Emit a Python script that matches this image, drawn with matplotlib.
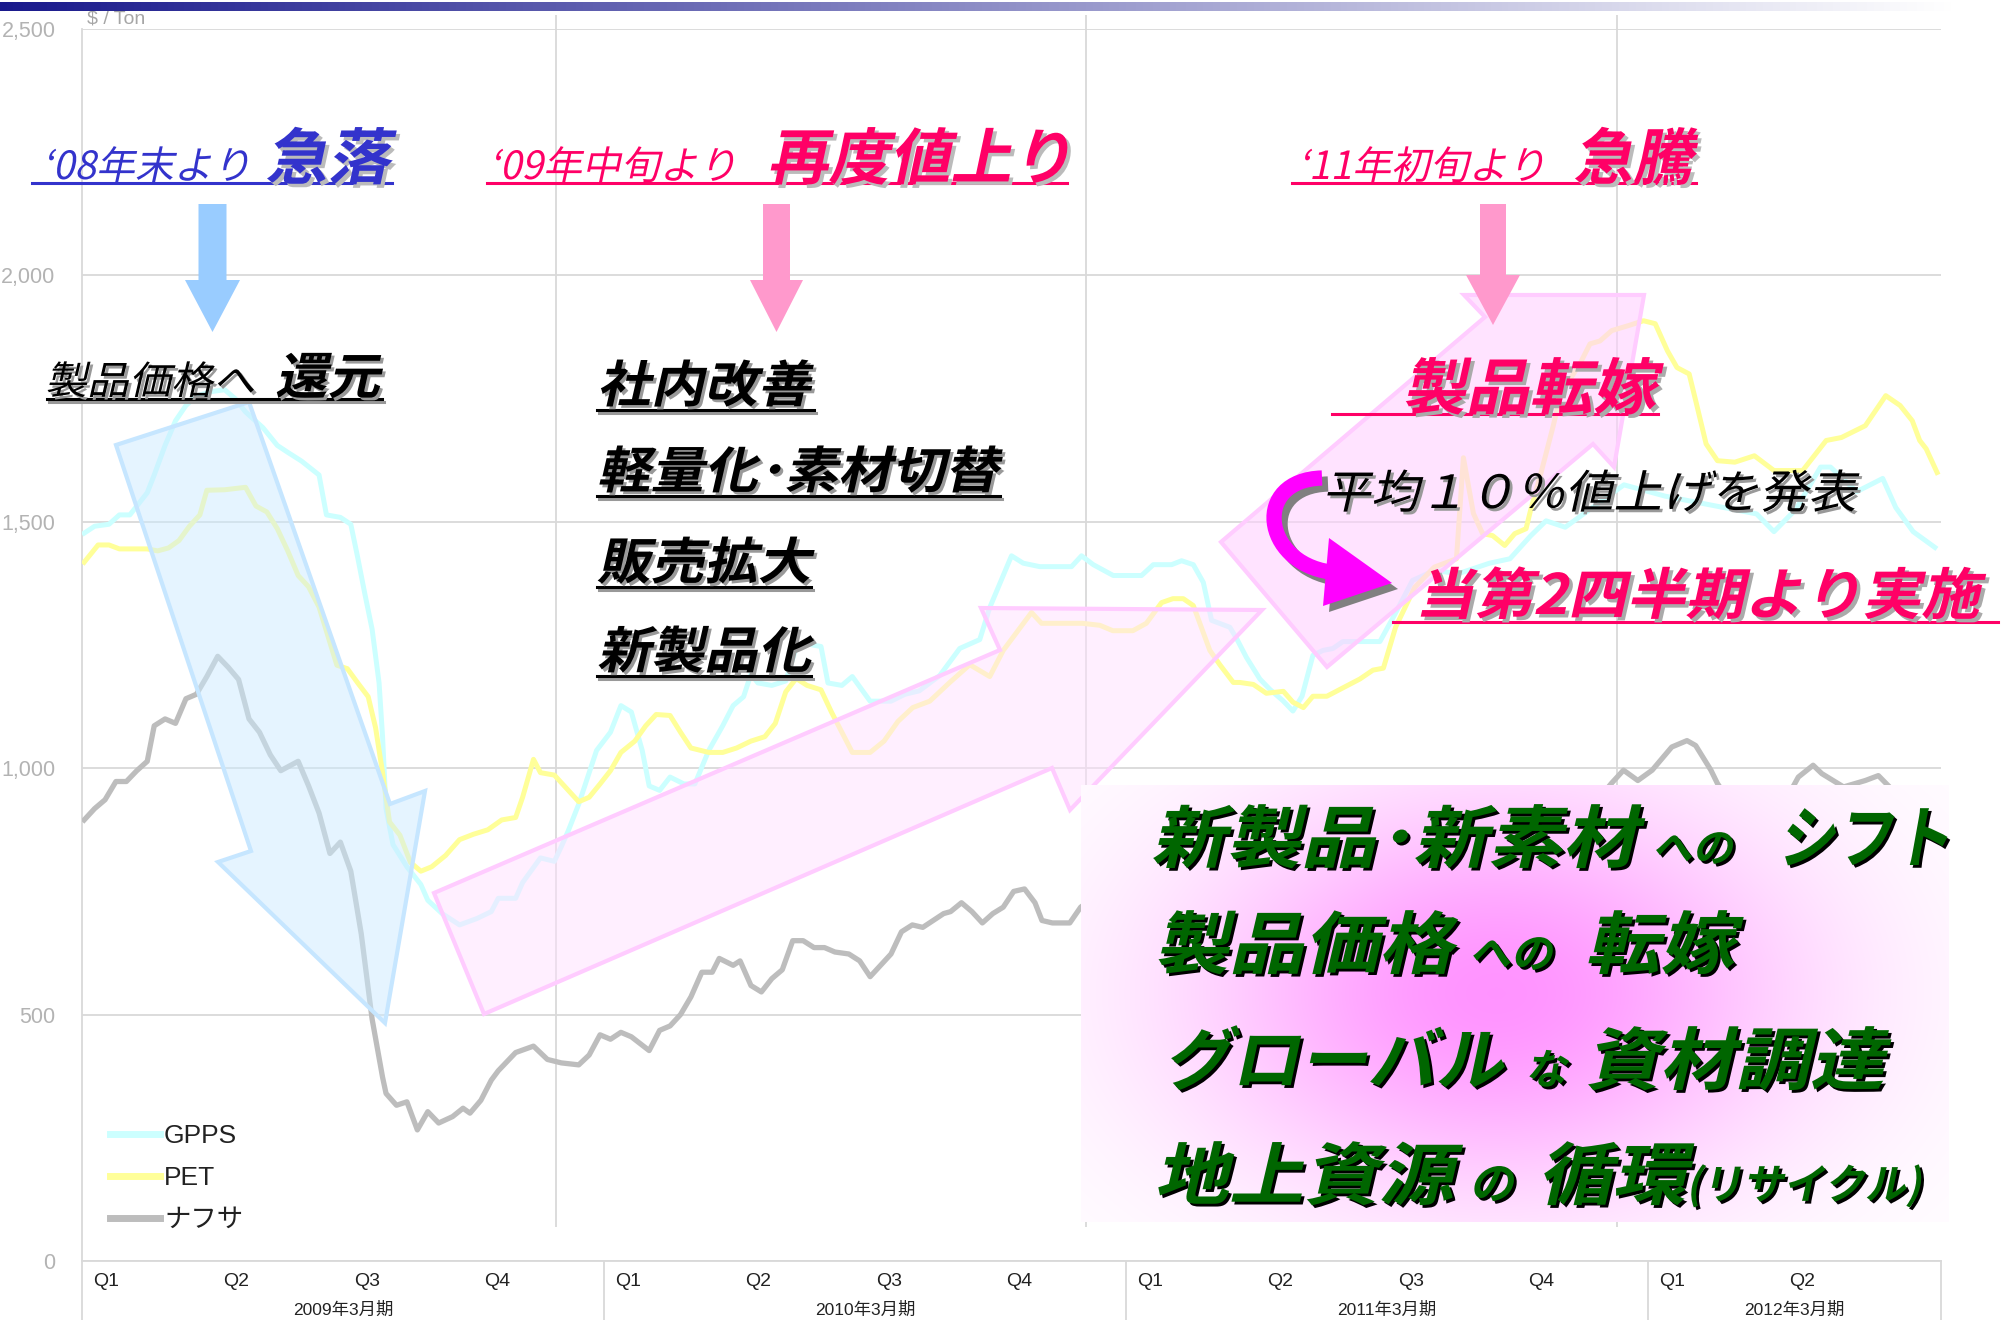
#!/usr/bin/env python
# -*- coding: utf-8 -*-
import numpy as np
import matplotlib
matplotlib.use('Agg')
import matplotlib.pyplot as plt
import matplotlib.patheffects as pe
from matplotlib import font_manager
from matplotlib.colors import to_rgba
from matplotlib.lines import Line2D
from matplotlib.path import Path
from matplotlib.patches import Polygon, PathPatch
from matplotlib.transforms import Affine2D, blended_transform_factory

W, H = 2011, 1320

# months counted from April 2008 (start of FY 2009/3), prices in $/ton
gpps_month = [0.05, 0.29, 0.62, 0.86, 1.10, 1.34, 1.50, 1.66, 1.91, 2.15,
              2.39, 2.63, 2.95, 3.28, 3.52, 3.76, 4.16, 4.49, 4.73, 5.05,
              5.45, 5.62, 5.94, 6.18, 6.34, 6.50, 6.67, 6.83, 6.91, 6.99,
              7.15, 7.47, 7.79, 7.95, 8.28, 8.68, 9.08, 9.41, 9.57, 9.97,
              10.13, 10.54, 10.86, 11.02, 11.18, 11.42, 11.83, 12.15, 12.39, 12.63,
              12.88, 13.04, 13.28, 13.52, 13.84, 14.09, 14.41, 14.73, 14.97, 15.21,
              15.38, 15.54, 15.86, 16.18, 16.42, 16.67, 16.99, 17.15, 17.47, 17.71,
              18.12, 18.60, 18.92, 19.25, 19.72, 20.18, 20.64, 20.87, 21.37, 21.64,
              22.02, 22.75, 22.98, 23.25, 23.71, 24.36, 24.63, 25.05, 25.28, 25.55,
              25.78, 25.97, 26.39, 26.54, 26.77, 27.08, 27.31, 27.61, 27.84, 28.05,
              28.30, 28.53, 28.76, 28.99, 29.84, 30.17, 30.59, 31.09, 31.65, 32.36,
              32.83, 33.30, 33.66, 34.10, 35.45, 36.40, 38.50, 38.90, 39.40, 39.97,
              40.20, 40.80, 41.40, 41.70, 42.10, 42.60]
gpps_price = [1477, 1491, 1495, 1514, 1514, 1541, 1559, 1595, 1655, 1705,
              1736, 1755, 1764, 1768, 1750, 1723, 1691, 1655, 1641, 1623,
              1595, 1514, 1509, 1495, 1427, 1355, 1282, 1173, 1064, 918,
              845, 800, 764, 732, 705, 682, 695, 709, 736, 736,
              768, 818, 811, 841, 873, 927, 1036, 1073, 1127, 1114,
              1036, 964, 955, 982, 968, 968, 1036, 1086, 1127, 1145,
              1191, 1173, 1168, 1177, 1245, 1252, 1247, 1173, 1168, 1186,
              1136, 1136, 1150, 1157, 1188, 1243, 1261, 1326, 1431, 1416,
              1409, 1409, 1431, 1413, 1391, 1391, 1413, 1413, 1421, 1413,
              1377, 1300, 1286, 1264, 1225, 1181, 1160, 1137, 1116, 1146,
              1229, 1239, 1243, 1257, 1257, 1310, 1381, 1401, 1395, 1416,
              1425, 1471, 1502, 1489, 1575, 1552, 1516, 1480, 1525, 1611,
              1611, 1561, 1588, 1529, 1480, 1448]

pet_month = [0.05, 0.37, 0.62, 0.86, 1.50, 1.74, 1.99, 2.23, 2.47, 2.71,
             2.87, 3.28, 3.76, 4.00, 4.25, 4.49, 4.73, 4.97, 5.21, 5.45,
             5.70, 5.86, 6.10, 6.34, 6.58, 6.75, 6.91, 7.07, 7.31, 7.55,
             7.79, 8.04, 8.36, 8.68, 9.00, 9.33, 9.65, 9.97, 10.13, 10.38,
             10.54, 10.86, 11.18, 11.42, 11.66, 11.91, 12.15, 12.39, 12.71, 12.96,
             13.20, 13.52, 13.76, 14.00, 14.41, 14.73, 15.05, 15.38, 15.70, 15.94,
             16.18, 16.42, 16.67, 16.99, 17.23, 17.47, 17.71, 18.12, 18.44, 18.76,
             19.10, 19.49, 19.95, 20.41, 20.87, 21.18, 21.83, 22.06, 23.00, 23.40,
             23.70, 24.16, 24.47, 24.82, 25.08, 25.32, 25.55, 25.93, 26.16, 26.47,
             26.62, 26.93, 27.23, 27.62, 27.84, 28.08, 28.30, 28.62, 28.99, 29.38,
             29.68, 29.92, 30.20, 30.64, 31.09, 31.60, 31.76, 31.99, 32.20, 32.43,
             32.71, 32.94, 33.20, 33.30, 33.54, 33.82, 34.00, 34.44, 34.67, 34.90,
             35.17, 35.55, 35.90, 36.17, 36.45, 36.67, 36.95, 37.10, 37.34, 37.60,
             38.00, 38.45, 38.90, 39.56, 40.10, 40.45, 41.00, 41.47, 41.80, 42.08,
             42.25, 42.40, 42.65]
pet_price = [1418, 1453, 1453, 1445, 1445, 1441, 1447, 1462, 1491, 1514,
             1564, 1565, 1570, 1532, 1520, 1486, 1441, 1391, 1368, 1327,
             1255, 1209, 1202, 1173, 1145, 1082, 991, 891, 864, 809,
             791, 800, 823, 855, 866, 875, 895, 900, 941, 1018,
             991, 986, 955, 932, 941, 968, 995, 1032, 1055, 1086,
             1109, 1107, 1073, 1041, 1032, 1032, 1041, 1055, 1064, 1091,
             1155, 1182, 1168, 1159, 1114, 1073, 1032, 1032, 1055, 1095,
             1123, 1136, 1174, 1210, 1186, 1239, 1316, 1294, 1294, 1290,
             1279, 1279, 1294, 1336, 1344, 1344, 1330, 1239, 1210, 1174,
             1174, 1170, 1152, 1156, 1134, 1123, 1146, 1146, 1163, 1181,
             1199, 1203, 1286, 1367, 1408, 1425, 1630, 1517, 1476, 1472,
             1452, 1476, 1486, 1522, 1598, 1693, 1760, 1821, 1861, 1867,
             1888, 1898, 1908, 1902, 1847, 1813, 1800, 1746, 1658, 1624,
             1621, 1634, 1604, 1604, 1665, 1671, 1695, 1756, 1736, 1705,
             1665, 1648, 1600]

# naphtha is hidden behind the text panel for part of the period (nan = gap)
nap_month = [0.05, 0.29, 0.53, 0.78, 1.02, 1.26, 1.50, 1.66, 1.91, 2.15,
             2.39, 2.63, 2.87, 3.12, 3.36, 3.60, 3.84, 4.08, 4.33, 4.57,
             4.97, 5.21, 5.45, 5.70, 5.94, 6.18, 6.42, 6.67, 6.91, 6.99,
             7.23, 7.47, 7.71, 7.95, 8.20, 8.52, 8.76, 8.92, 9.17, 9.41,
             9.57, 9.97, 10.38, 10.70, 11.02, 11.42, 11.66, 11.91, 12.15, 12.39,
             12.63, 13.04, 13.28, 13.52, 13.76, 14.00, 14.25, 14.49, 14.65, 14.97,
             15.13, 15.38, 15.62, 15.86, 16.10, 16.34, 16.58, 16.83, 17.07, 17.31,
             17.63, 17.88, 18.12, 18.36, 18.60, 18.84, 19.09, 19.33, 19.57, 19.81,
             19.97, 20.22, 20.46, 20.70, 20.94, 21.18, 21.42, 21.67, 21.91, 22.07,
             22.31, 22.71, 22.96, 23.30, 29.00, 34.80, 35.16, 35.44, 35.77, 36.10,
             36.55, 36.90, 37.10, 37.45, 37.60, 37.90, 38.60, 39.20, 39.46, 39.80,
             40.00, 40.50, 41.00, 41.30, 41.60, 41.90]
nap_price = [895, 918, 936, 973, 973, 995, 1014, 1086, 1100, 1091,
             1141, 1150, 1186, 1227, 1205, 1180, 1100, 1073, 1027, 995,
             1014, 964, 909, 827, 850, 791, 664, 491, 373, 340,
             316, 323, 266, 303, 280, 293, 310, 300, 326, 367,
             386, 423, 436, 409, 402, 398, 418, 459, 450, 464,
             455, 427, 468, 477, 500, 536, 586, 586, 614, 600,
             609, 559, 546, 573, 591, 650, 650, 636, 636, 627,
             623, 609, 577, 600, 623, 668, 682, 677, 691, 705,
             709, 727, 709, 686, 705, 718, 750, 755, 727, 691,
             686, 686, 718, 740, np.nan, 930, 969, 996, 975, 996,
             1043, 1056, 1046, 996, 969, 930, np.nan, 940, 982, 1006,
             989, 962, 975, 985, 958, 930]

series_names = ['GPPS', 'PET', 'ナフサ']
y_ticks = [0, 500, 1000, 1500, 2000, 2500]
y_tick_labels = ['0', '500', '1,000', '1,500', '2,000', '2,500']
q_labels = ['Q1', 'Q2', 'Q3', 'Q4'] * 3 + ['Q1', 'Q2']
fy_labels = ['2009年3月期', '2010年3月期', '2011年3月期', '2012年3月期']
x_end = 42.74
fy_edges = [0, 12, 24, 36, x_end]
grid_months = [10.9, 23.08, 35.3]

names = {f.name for f in font_manager.fontManager.ttflist}
narrow = 'Liberation Sans Narrow' if 'Liberation Sans Narrow' in names else 'Liberation Sans'
JP = 'Noto Sans CJK JP'
plt.rcParams['font.family'] = [JP, 'DejaVu Sans']


class Slant(pe.AbstractPathEffect):
    """draws text glyphs sheared (italic) and scaled in width, optionally as a shadow"""

    def __init__(self, offset=(0, 0), color=None, angle=12, stretch=1.0):
        super().__init__(offset)
        self.color = color
        self.angle = angle
        self.stretch = stretch

    def draw_path(self, renderer, gc, tpath, affine, rgbFace=None):
        face = rgbFace if self.color is None else to_rgba(self.color)
        tr = (Affine2D().skew_deg(self.angle, 0).scale(self.stretch, 1)
              + affine + self._offset_transform(renderer))
        renderer.draw_path(gc, tpath, tr, face)


fig = plt.figure(figsize=(W / 100, H / 100), dpi=100)
px = Affine2D().scale(1.0 / W, -1.0 / H).translate(0, 1) + fig.transFigure


def say(x, y, s, size, color, bold=False, shadow=None, sh=(2, -2), stretch=1.05, z=8):
    eff = []
    if shadow:
        eff.append(Slant(sh, shadow, stretch=stretch))
    eff.append(Slant((0, 0), None, stretch=stretch))
    fig.text(x, y, s, transform=px, fontsize=size, color=color, family=[JP, 'DejaVu Sans'],
             fontweight='bold' if bold else 'normal', ha='left', va='baseline',
             path_effects=eff, zorder=z)


def underline(x0, x1, y, color, shadow=None, lw=2.2):
    if shadow:
        fig.add_artist(Line2D([x0 + 2, x1 + 2], [y + 3, y + 3], transform=px, color=shadow, lw=lw, zorder=7))
    fig.add_artist(Line2D([x0, x1], [y, y], transform=px, color=color, lw=lw, zorder=8))


def down_arrow(cx, top, neck, tip, sw, hw, color):
    pts = [(cx - sw / 2, top), (cx + sw / 2, top), (cx + sw / 2, neck), (cx + hw / 2, neck),
           (cx, tip), (cx - hw / 2, neck), (cx - sw / 2, neck)]
    fig.add_artist(Polygon(pts, closed=True, transform=px, facecolor=color, edgecolor='none', zorder=6))


# ---- main chart ----
ax = fig.add_axes([82 / W, 1 - 1261 / H, (1941 - 82) / W, (1261 - 29) / H])
ax.set_xlim(0, x_end)
ax.set_ylim(0, 2500)
l_nap, = ax.plot(nap_month, nap_price, color='#bdbdbd', lw=3.8, solid_joinstyle='round', zorder=3)
l_gpps, = ax.plot(gpps_month, gpps_price, color='#ccffff', lw=3.6, solid_joinstyle='round', zorder=3)
l_pet, = ax.plot(pet_month, pet_price, color='#ffff99', lw=3.6, solid_joinstyle='round', zorder=3)

ax.set_yticks(y_ticks)
ax.set_yticklabels(y_tick_labels, family=narrow)
ax.tick_params(axis='y', length=0, pad=19, labelsize=15.5, labelcolor='#b3b3b3')
ax.set_xticks([])
ax.grid(axis='y', color='#d9d9d9', lw=1.3)
ax.set_axisbelow(True)
for s in ('top', 'right'):
    ax.spines[s].set_visible(False)
for s in ('left', 'bottom'):
    ax.spines[s].set_color('#d9d9d9')
    ax.spines[s].set_linewidth(1.3)
ax.vlines(grid_months, 69, 2528, color='#d9d9d9', lw=1.3, zorder=1, clip_on=False)

trans = blended_transform_factory(ax.transData, ax.transAxes)
for m in fy_edges:
    ax.plot([m, m], [0, -60 / 1232], transform=trans, clip_on=False, color='#d9d9d9', lw=1.3)
for i, q in enumerate(q_labels):
    ax.text(0.55 + 3 * i, -21 / 1232, q, transform=trans, ha='center', va='center',
            fontsize=14, family=narrow, color='#222222')
for i, lab in enumerate(fy_labels):
    ax.text((fy_edges[i] + fy_edges[i + 1]) / 2, -49 / 1232, lab, transform=trans,
            ha='center', va='center', fontsize=12.5, family=[narrow, JP], color='#222222')

leg = ax.legend([l_gpps, l_pet, l_nap], series_names, loc='upper left', bbox_to_anchor=(110, 1124),
                bbox_transform=px, frameon=False, handlelength=1.9, handletextpad=0.15,
                labelspacing=0.68, borderpad=0, borderaxespad=0,
                prop=dict(family=[narrow, JP], size=19), labelcolor='#222222')
for h in leg.legend_handles:
    h.set_linewidth(5)

fig.text(87, 19, '$ / Ton', transform=px, fontsize=14, color='#a6a6a6', family=narrow, va='center')

# top gradient bar
bar = fig.add_axes([0, 1 - 11 / H, 1, 9 / H], zorder=9)
t = np.clip(np.linspace(0, 1.03, 600), 0, 1)
navy = np.array([0.10, 0.10, 0.55])
bar.imshow((navy + (1 - navy) * t[:, None])[None, :, :], aspect='auto', extent=(0, 1, 0, 1))
bar.axis('off')

# ---- big translucent arrows ----
blue_big = [(116, 445), (249, 402), (390, 804), (425, 791), (385, 1023), (218, 862), (251, 851)]
pink_low = [(434, 893), (1000, 650), (981, 608), (1262, 610), (1070, 810), (1052, 768), (484, 1014)]
pink_up = [(1221, 542), (1485, 317), (1464, 295), (1644, 295), (1614, 467), (1593, 444), (1327, 667)]
fig.add_artist(Polygon(blue_big, closed=True, transform=px, facecolor=(0.80, 0.92, 1.0, 0.5),
                       edgecolor='#c6e6ff', lw=3, zorder=2))
fig.add_artist(Polygon(pink_low, closed=True, transform=px, facecolor=(1.0, 0.88, 1.0, 0.5),
                       edgecolor='#ffccff', lw=3, zorder=2))
fig.add_artist(Polygon(pink_up, closed=True, transform=px, facecolor=(1.0, 0.82, 1.0, 0.6),
                       edgecolor='#ffccff', lw=3, zorder=2))

# ---- header annotations ----
say(42, 179, '‘08年末より', 28, '#3333cc', stretch=1.0)
say(265, 179, '急落', 44, '#3333cc', bold=True, shadow='#bbbbbb', sh=(2.5, -2.5), stretch=1.02)
underline(32, 392, 183, '#3333cc')
say(489, 179, '‘09年中旬より', 28, '#ff0066', stretch=1.0)
say(767, 179, '再度値上り', 44, '#ff0066', bold=True, shadow='#bbbbbb', sh=(2.5, -2.5), stretch=1.0)
underline(487, 1067, 183, '#ff0066')
say(1298, 179, '‘11年初旬より', 28, '#ff0066', stretch=1.0)
say(1573, 179, '急騰', 44, '#ff0066', bold=True, shadow='#bbbbbb', sh=(2.5, -2.5), stretch=0.98)
underline(1292, 1696, 183, '#ff0066')

down_arrow(212.5, 204, 280, 332, 28, 55, '#99ccff')
down_arrow(776.5, 204, 280, 332, 27, 53, '#ff99cc')
down_arrow(1493, 204, 275, 325, 26, 54, '#ff99cc')

say(45, 394, '製品価格へ', 28, 'black', shadow='#999999', sh=(2, -2), stretch=1.08)
say(275, 394, '還元', 36, 'black', bold=True, shadow='#999999', sh=(2, -2), stretch=1.05)
underline(47, 382, 399, 'black', shadow='#999999')

for txt, base, x1 in (('社内改善', 402, 814), ('軽量化･素材切替', 488, 1000),
                      ('販売拡大', 579, 811), ('新製品化', 668, 811)):
    say(597, base, txt, 36, 'black', bold=True, shadow='#999999', sh=(2, -2), stretch=1.07)
    underline(597, x1, base + 8, 'black', shadow='#999999')

say(1402, 409, '製品転嫁', 44, '#ff0066', bold=True, shadow='#aaaaaa', sh=(2.5, -2.5), stretch=1.04)
underline(1332, 1658, 414, '#ff0066')
say(1322, 508, '平均１０％値上げを発表', 33, 'black', shadow='#999999', sh=(2, -2), stretch=1.06)
say(1415, 614, '当第2四半期より実施', 40, '#ff0066', bold=True, shadow='#aaaaaa', sh=(2.5, -2.5), stretch=1.06)
underline(1393, 1998, 622, '#ff0066')

# curved magenta arrow with shadow
curve = Path([(1322, 478), (1252, 480), (1262, 562), (1330, 572)],
             [Path.MOVETO, Path.CURVE4, Path.CURVE4, Path.CURVE4])
for dx, dy, col in ((6, 6, '#808080'), (0, 0, '#ff00ff')):
    tr = Affine2D().translate(dx, dy) + px
    fig.add_artist(PathPatch(curve, transform=tr, fill=False, edgecolor=col, lw=11,
                             capstyle='butt', zorder=7))
    fig.add_artist(Polygon([(1329, 538), (1323, 606), (1392, 583)], closed=True, transform=tr,
                           facecolor=col, edgecolor='none', zorder=7))

# ---- panel with pink glow ----
bx0, bx1, by0, by1 = 1081, 1949, 785, 1222
box = fig.add_axes([bx0 / W, 1 - by1 / H, (bx1 - bx0) / W, (by1 - by0) / H], zorder=4)
yy, xx = np.mgrid[by0:by1, bx0:bx1]
glow = np.exp(-(((xx - 1496) / 300.0) ** 2 + ((yy - 993) / 200.0) ** 2))
box.imshow(np.dstack([np.ones_like(glow), 1 - 0.42 * glow, np.ones_like(glow)]),
           aspect='auto', extent=(0, 1, 0, 1))
box.axis('off')

green = '#006600'
for x, base, s, size, st in ((1151, 862, '新製品･新素材', 49, 1.1), (1652, 862, 'への', 29, 1.0),
                             (1777, 862, 'シフト', 49, 0.85),
                             (1154, 968, '製品価格', 49, 1.1), (1469, 968, 'への', 30, 1.0),
                             (1585, 968, '転嫁', 49, 1.1),
                             (1163, 1084, 'グローバル', 49, 1.0), (1525, 1084, 'な', 30, 1.0),
                             (1585, 1084, '資材調達', 49, 1.1),
                             (1154, 1199, '地上資源', 49, 1.1), (1469, 1199, 'の', 32, 1.0),
                             (1537, 1199, '循環', 49, 1.1), (1686, 1199, '(リサイクル)', 30, 0.98)):
    say(x, base, s, size, green, bold=True, shadow='black', sh=(2, -2), stretch=st, z=10)

plt.savefig('out.png', dpi=100)
